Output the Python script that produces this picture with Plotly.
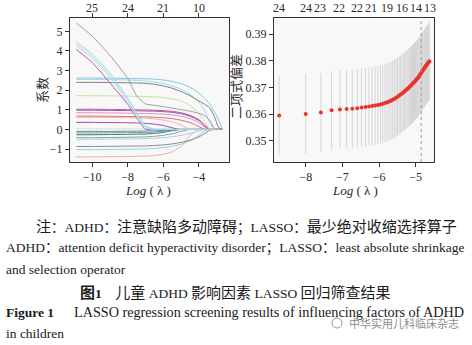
import plotly.graph_objects as go

# ---------------- coefficient paths (left panel) ----------------
path_log_lambda = [-10.88, -10.0, -9.0, -8.0, -7.5, -7.0, -6.5, -6.0, -5.5, -5.0,
                   -4.5, -4.0, -3.7, -3.4, -3.1, -2.9, -2.68]

b_gray_kink = [5.42, 4.76, 3.78, 2.61, 1.71, 1.30, 1.23, 1.16, 1.09, 1.01, 0.93, 0.82, 0.72, 0.48, 0.00, 0.00, 0.00]
b_cyan_1 = [4.45, 3.85, 2.88, 1.60, 0.85, 0.20, 0.00, 0.00, 0.00, 0.00, 0.00, 0.00, 0.00, 0.00, 0.00, 0.00, 0.00]
b_cyan_2 = [4.35, 3.72, 2.75, 1.48, 0.75, 0.12, 0.00, 0.00, 0.00, 0.00, 0.00, 0.00, 0.00, 0.00, 0.00, 0.00, 0.00]
b_cyan_3 = [4.25, 3.62, 2.65, 1.38, 0.65, 0.08, 0.00, 0.00, 0.00, 0.00, 0.00, 0.00, 0.00, 0.00, 0.00, 0.00, 0.00]
b_magenta_1 = [4.07, 3.42, 2.38, 1.28, 0.60, 0.00, 0.00, 0.00, 0.00, 0.00, 0.00, 0.00, 0.00, 0.00, 0.00, 0.00, 0.00]
b_cyan_4 = [2.62, 2.62, 2.61, 2.60, 2.59, 2.58, 2.56, 2.52, 2.45, 2.33, 2.15, 1.85, 1.60, 1.30, 0.85, 0.50, 0.00]
b_gray_2 = [2.40, 2.40, 2.39, 2.38, 2.37, 2.35, 2.30, 2.22, 2.10, 1.93, 1.72, 1.45, 1.30, 1.10, 0.60, 0.10, 0.00]
b_cyan_5 = [2.55, 2.55, 2.54, 2.52, 2.50, 2.47, 2.42, 2.35, 2.22, 2.05, 1.80, 1.40, 1.00, 0.35, 0.00, 0.00, 0.00]
b_green_1 = [1.72, 1.72, 1.71, 1.70, 1.69, 1.68, 1.66, 1.62, 1.56, 1.45, 1.22, 0.80, 0.45, 0.00, 0.00, 0.00, 0.00]
b_magenta_2 = [1.03, 1.03, 1.02, 1.01, 1.00, 0.99, 0.98, 0.96, 0.92, 0.85, 0.72, 0.50, 0.25, 0.00, 0.00, 0.00, 0.00]
b_purple_1 = [0.98, 0.98, 0.97, 0.96, 0.95, 0.94, 0.93, 0.91, 0.87, 0.80, 0.67, 0.45, 0.20, 0.00, 0.00, 0.00, 0.00]
b_violet = [0.85, 0.85, 0.84, 0.83, 0.82, 0.81, 0.80, 0.78, 0.74, 0.67, 0.55, 0.35, 0.12, 0.00, 0.00, 0.00, 0.00]
b_red = [0.68, 0.68, 0.67, 0.66, 0.65, 0.64, 0.62, 0.60, 0.55, 0.47, 0.35, 0.15, 0.00, 0.00, 0.00, 0.00, 0.00]
b_pink_1 = [0.62, 0.62, 0.61, 0.60, 0.59, 0.57, 0.54, 0.48, 0.38, 0.22, 0.00, 0.00, 0.00, 0.00, 0.00, 0.00, 0.00]
b_purple_2 = [0.36, 0.36, 0.35, 0.34, 0.33, 0.31, 0.27, 0.20, 0.08, 0.00, 0.00, 0.00, 0.00, 0.00, 0.00, 0.00, 0.00]
b_green_2 = [0.03, 0.03, 0.03, 0.03, 0.03, 0.02, 0.02, 0.01, 0.00, 0.00, 0.00, 0.00, 0.00, 0.00, 0.00, 0.00, 0.00]
b_blue = [-0.10, -0.10, -0.10, -0.09, -0.09, -0.08, -0.07, -0.05, -0.02, 0.00, 0.00, 0.00, 0.00, 0.00, 0.00, 0.00, 0.00]
b_teal = [-0.18, -0.18, -0.17, -0.16, -0.16, -0.15, -0.13, -0.10, -0.04, 0.00, 0.00, 0.00, 0.00, 0.00, 0.00, 0.00, 0.00]
b_darkgreen = [-0.27, -0.27, -0.26, -0.25, -0.24, -0.23, -0.20, -0.15, -0.06, 0.00, 0.00, 0.00, 0.00, 0.00, 0.00, 0.00, 0.00]
b_gray_3 = [-0.42, -0.42, -0.41, -0.40, -0.39, -0.38, -0.35, -0.30, -0.22, -0.10, 0.00, 0.00, 0.00, 0.00, 0.00, 0.00, 0.00]
b_lightblue = [-0.50, -0.50, -0.49, -0.48, -0.48, -0.47, -0.45, -0.42, -0.37, -0.30, -0.20, -0.08, 0.00, 0.00, 0.00, 0.00, 0.00]
b_gray_4 = [-0.87, -0.87, -0.86, -0.85, -0.85, -0.84, -0.82, -0.79, -0.74, -0.66, -0.55, -0.38, -0.22, -0.05, 0.00, 0.00, 0.00]
b_cyan_6 = [-1.03, -1.03, -1.02, -1.01, -1.00, -0.99, -0.97, -0.93, -0.86, -0.75, -0.58, -0.30, -0.08, 0.00, 0.00, 0.00, 0.00]
b_pink_2 = [-1.40, -1.40, -1.39, -1.38, -1.37, -1.36, -1.33, -1.27, -1.14, -0.87, -0.30, 0.00, 0.00, 0.00, 0.00, 0.00, 0.00]

path_values = [
    b_pink_2, b_cyan_6, b_gray_4, b_lightblue, b_gray_3, b_darkgreen, b_teal, b_blue,
    b_green_2, b_purple_2, b_pink_1, b_red, b_violet, b_purple_1, b_magenta_2, b_green_1,
    b_cyan_5, b_cyan_4, b_gray_2, b_magenta_1, b_cyan_3, b_cyan_2, b_cyan_1, b_gray_kink,
]
path_colors = [
    "#f2aab2", "#8fd0e2", "#8a8a8a", "#a2d4e8", "#9a9a9a", "#2f7d5c", "#4fa9a2", "#6a7ccc",
    "#d3e6b4", "#9a4aa2", "#f2b0b8", "#e26a6a", "#d392ca", "#8e58b0", "#c04c9c", "#c8dd9e",
    "#9fd8e6", "#7ecadd", "#7c7c7c", "#c8509c", "#b6e2ec", "#a8dce8", "#a2d6e4", "#a0a0a0",
]

top_left_pos = [-10, -8, -6, -4]
top_left_labels = ["25", "24", "21", "10"]

# ---------------- cross-validation curve (right panel) ----------------
cv_log_lambda = [
    -8.728, -8.004, -7.589, -7.296, -7.070, -6.886, -6.731, -6.596, -6.477, -6.371,
    -6.276, -6.188, -6.108, -6.033, -5.964, -5.899, -5.838, -5.781, -5.727, -5.675,
    -5.627, -5.580, -5.535, -5.493, -5.452, -5.412, -5.375, -5.338, -5.303, -5.269,
    -5.236, -5.205, -5.174, -5.144, -5.115, -5.087, -5.059, -5.032, -5.006, -4.981,
    -4.956, -4.932, -4.908, -4.885, -4.863, -4.841, -4.819, -4.798, -4.777, -4.757,
    -4.738, -4.718, -4.699, -4.680, -4.662, -4.644, -4.626,
]
cv_deviance = [
    0.3594, 0.3600, 0.3606, 0.3614, 0.3617, 0.3619, 0.3620, 0.3622, 0.3624, 0.3626,
    0.3628, 0.3630, 0.3632, 0.3634, 0.3636, 0.3638, 0.3641, 0.3644, 0.3647, 0.3650,
    0.3653, 0.3657, 0.3661, 0.3665, 0.3669, 0.3673, 0.3677, 0.3681, 0.3685, 0.3689,
    0.3693, 0.3697, 0.3701, 0.3705, 0.3709, 0.3713, 0.3717, 0.3721, 0.3725, 0.3729,
    0.3733, 0.3737, 0.3741, 0.3746, 0.3751, 0.3756, 0.3761, 0.3765, 0.3769, 0.3773,
    0.3777, 0.3781, 0.3785, 0.3788, 0.3791, 0.3795, 0.3798,
]
cv_sd = [
    0.0148, 0.0148, 0.0148, 0.0147, 0.0147, 0.0147, 0.0147, 0.0147, 0.0147, 0.0147,
    0.0147, 0.0147, 0.0147, 0.0147, 0.0147, 0.0147, 0.0147, 0.0147, 0.0147, 0.0147,
    0.0147, 0.0147, 0.0147, 0.0147, 0.0147, 0.0146, 0.0146, 0.0146, 0.0146, 0.0146,
    0.0146, 0.0146, 0.0146, 0.0146, 0.0146, 0.0146, 0.0146, 0.0146, 0.0146, 0.0146,
    0.0146, 0.0146, 0.0146, 0.0146, 0.0146, 0.0146, 0.0145, 0.0145, 0.0145, 0.0145,
    0.0145, 0.0145, 0.0145, 0.0145, 0.0145, 0.0145, 0.0145,
]
lambda_1se_log = -4.85

top_right_pos = [-8.73, -8.0, -7.62, -7.10, -6.61, -6.22, -5.79, -5.38, -5.0, -4.62]
top_right_labels = ["24", "24", "23", "22", "22", "21", "19", "16", "14", "13"]

# ---------------- figure ----------------
W, H = 472, 345
FONT = "Liberation Serif, 'Noto Sans CJK SC', serif"
INK = "#2a2a2a"


def px(x):
    return x / W


def py(y):
    return 1 - y / H


def cjk(s, size=15):
    return f'<span style="font-size:{size}px">{s}</span>'


fig = go.Figure()

for vals, color in zip(path_values, path_colors):
    fig.add_trace(go.Scatter(
        x=path_log_lambda, y=vals, mode="lines",
        line=dict(color=color, width=1, shape="spline", smoothing=0.5),
        xaxis="x", yaxis="y", hoverinfo="skip", showlegend=False,
    ))

fig.add_trace(go.Scatter(
    x=cv_log_lambda, y=cv_deviance, mode="markers",
    marker=dict(color="#e8352c", size=4),
    error_y=dict(type="data", array=cv_sd, color="#d4d4d4", thickness=1, width=0),
    xaxis="x2", yaxis="y2", hoverinfo="skip", showlegend=False,
))

fig.add_shape(type="line", xref="x2", yref="y2 domain",
              x0=lambda_1se_log, x1=lambda_1se_log, y0=0, y1=1,
              line=dict(color="#9a9a9a", width=1, dash="dot"))

axis_common = dict(
    showline=True, linecolor="#333333", linewidth=1, showgrid=False, zeroline=False,
    ticks="outside", ticklen=4, tickcolor="#333333",
    tickfont=dict(family=FONT, size=12, color=INK),
)

y_dom = [py(162), py(18)]
fig.update_layout(
    width=W, height=H, margin=dict(l=0, r=0, t=0, b=0),
    paper_bgcolor="white", plot_bgcolor="#f8f8f8",
    xaxis=dict(domain=[px(70), px(229)], range=[-11.24, -2.31], anchor="y",
               tickvals=[-10, -8, -6, -4], ticktext=["−10", "−8", "−6", "−4"],
               mirror="allticks", **axis_common),
    yaxis=dict(domain=y_dom, range=[-1.66, 5.68], anchor="x",
               tickvals=[-1, 0, 1, 2, 3, 4, 5],
               ticktext=["−1", "0", "1", "2", "3", "4", "5"],
               mirror=True, **axis_common),
    xaxis2=dict(domain=[px(274), px(434)], range=[-8.87, -4.5], anchor="y2",
                tickvals=[-8, -7, -6, -5], ticktext=["−8", "−7", "−6", "−5"],
                mirror=True, **axis_common),
    yaxis2=dict(domain=y_dom, range=[0.342, 0.396], anchor="x2",
                tickvals=[0.35, 0.36, 0.37, 0.38, 0.39],
                ticktext=["0.35", "0.36", "0.37", "0.38", "0.39"],
                mirror=True, **axis_common),
)

ann = []
for pos, lab in zip(top_left_pos, top_left_labels):
    ann.append(dict(x=pos, y=py(8), xref="x", yref="paper", text=lab,
                    font=dict(family=FONT, size=12, color=INK)))
for pos, lab in zip(top_right_pos, top_right_labels):
    ann.append(dict(x=pos, y=py(8), xref="x2", yref="paper", text=lab,
                    font=dict(family=FONT, size=12, color=INK)))

# axis titles
ann.append(dict(x=px(42), y=py(90), xref="paper", yref="paper", text="系数", textangle=-90,
                font=dict(family=FONT, size=13, color=INK)))
ann.append(dict(x=px(236), y=py(87), xref="paper", yref="paper", text="二项式偏差", textangle=-90,
                font=dict(family=FONT, size=13, color=INK)))
for cx in (148, 355):
    ann.append(dict(x=px(cx), y=py(190), xref="paper", yref="paper", text="<i>Log</i> ( λ )",
                    font=dict(family=FONT, size=13, color=INK)))

# caption
cap = dict(family=FONT, size=13.5, color="#1a1a1a")
captions = [
    dict(x=px(34), y=py(227), xanchor="left",
         text=cjk("注") + "：ADHD：" + cjk("注意缺陷多动障碍") + "；LASSO：" + cjk("最少绝对收缩选择算子")),
    dict(x=px(4), y=py(248), xanchor="left",
         text="ADHD：attention deficit hyperactivity disorder；LASSO：least absolute shrinkage"),
    dict(x=px(4), y=py(269), xanchor="left", text="and selection operator"),
    dict(x=px(235), y=py(292), xanchor="center",
         text="<b>" + cjk("图") + "1</b>    " + cjk("儿童") + " ADHD " + cjk("影响因素")
              + " LASSO " + cjk("回归筛查结果")),
    dict(x=px(4), y=py(312), xanchor="left", text="<b>Figure 1</b>"),
    dict(x=px(72), y=py(312), xanchor="left",
         text="LASSO regression screening results of influencing factors of ADHD",
         font=dict(family=FONT, size=14.2, color="#1a1a1a")),
    dict(x=px(4), y=py(333), xanchor="left", text="in children"),
]
for a in captions:
    a.update(xref="paper", yref="paper")
    a.setdefault("font", cap)
ann += captions

# watermark
ann.append(dict(x=px(347), y=py(323), xref="paper", yref="paper", xanchor="left",
                text="中华实用儿科临床杂志",
                font=dict(family="'Noto Sans CJK SC', sans-serif", size=11, color="#8a8a8a")))
fig.add_shape(type="circle", xref="paper", yref="paper",
              x0=px(332), x1=px(342), y0=py(328), y1=py(318),
              line=dict(color="#9a9a9a", width=1))

for a in ann:
    a.setdefault("xanchor", "center")
    a["yanchor"] = "middle"
    a["showarrow"] = False

fig.update_layout(annotations=ann)
fig.write_html("out.html", post_script="document.body.style.margin='0';")
